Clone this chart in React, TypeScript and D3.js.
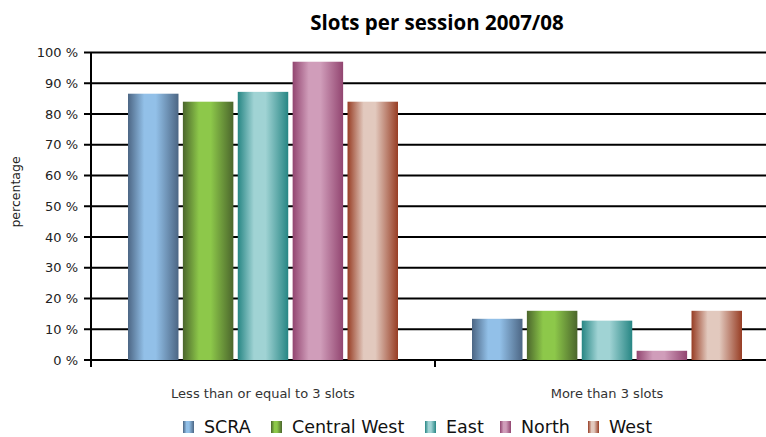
import * as d3 from "d3";

const categories = ["Less than or equal to 3 slots", "More than 3 slots"];
const regions = ["SCRA", "Central West", "East", "North", "West"];
const scraValues = [86.6, 13.4];
const centralWestValues = [84.0, 16.0];
const eastValues = [87.2, 12.8];
const northValues = [97.0, 3.0];
const westValues = [84.0, 16.0];
const yTicks = [0, 10, 20, 30, 40, 50, 60, 70, 80, 90, 100];

const seriesValues = [scraValues, centralWestValues, eastValues, northValues, westValues];
const palette = [
  { dark: "#4c6684", light: "#92c0e8" },
  { dark: "#4b662c", light: "#8dc84a" },
  { dark: "#278684", light: "#a0d3d4" },
  { dark: "#924570", light: "#d09dba" },
  { dark: "#973d24", light: "#e2c9be" }
];

const width = 766;
const height = 437;
const left = 91;
const right = 779;
const top = 52.5;
const bottom = 360;
const font = "'DejaVu Sans', 'Open Sans', sans-serif";
const titleFont = "'Open Sans', 'DejaVu Sans', sans-serif";

function App() {
  const x0 = d3.scaleBand<string>().domain(categories).range([left, right]);
  const x1 = d3
    .scaleBand<string>()
    .domain(regions)
    .range([37, x0.bandwidth() - 37])
    .paddingInner(0.08);
  const y = d3.scaleLinear().domain([0, 100]).range([bottom, top]);

  const legendX = [183, 271, 425, 500, 588];

  return (
    <div>
      <style>{`body{margin:0}`}</style>
      <svg width={width} height={height} style={{ display: "block", overflow: "hidden" }}>
        <defs>
          {palette.map((c, i) => (
            <linearGradient key={i} id={`g${i}`} x1="0" x2="1" y1="0" y2="0">
              <stop offset="0" stopColor={c.dark} />
              <stop offset="0.32" stopColor={c.light} />
              <stop offset="0.55" stopColor={c.light} />
              <stop offset="1" stopColor={c.dark} />
            </linearGradient>
          ))}
        </defs>
        <rect x={0} y={0} width={width} height={height} fill="#fff" />
        <text
          x={437}
          y={30}
          textAnchor="middle"
          fontFamily={titleFont}
          fontWeight="bold"
          fontSize={20.5}
          fill="#000"
        >
          Slots per session 2007/08
        </text>
        {yTicks.map((t) => (
          <g key={t}>
            <line x1={84} x2={right} y1={y(t)} y2={y(t)} stroke="#000" strokeWidth={2} />
            <text
              x={78}
              y={y(t)}
              dy="0.36em"
              textAnchor="end"
              fontFamily={font}
              fontSize={13}
              fill="#222"
            >
              {`${t} %`}
            </text>
          </g>
        ))}
        <line x1={left} x2={left} y1={top} y2={bottom + 7} stroke="#000" strokeWidth={2} />
        {categories.map((c, ci) => (
          <g key={c}>
            <line
              x1={(x0(c) ?? 0) + x0.bandwidth()}
              x2={(x0(c) ?? 0) + x0.bandwidth()}
              y1={bottom}
              y2={bottom + 7}
              stroke="#000"
              strokeWidth={2}
            />
            {regions.map((r, ri) => {
              const v = seriesValues[ri][ci];
              return (
                <rect
                  key={r}
                  x={(x0(c) ?? 0) + (x1(r) ?? 0)}
                  y={y(v)}
                  width={x1.bandwidth()}
                  height={y(0) - y(v)}
                  fill={`url(#g${ri})`}
                />
              );
            })}
            <text
              x={(x0(c) ?? 0) + x0.bandwidth() / 2}
              y={398}
              textAnchor="middle"
              fontFamily={font}
              fontSize={13}
              fill="#333"
            >
              {c}
            </text>
          </g>
        ))}
        <text
          transform={`translate(20, 192) rotate(-90)`}
          textAnchor="middle"
          fontFamily={font}
          fontSize={12.5}
          fill="#222"
        >
          percentage
        </text>
        {regions.map((r, i) => (
          <g key={r}>
            <rect x={legendX[i]} y={421} width={11} height={12} fill={`url(#g${i})`} />
            <text
              x={legendX[i] + 21}
              y={433}
              fontFamily={font}
              fontSize={17.5}
              fill="#111"
            >
              {r}
            </text>
          </g>
        ))}
      </svg>
    </div>
  );
}

export default App;
